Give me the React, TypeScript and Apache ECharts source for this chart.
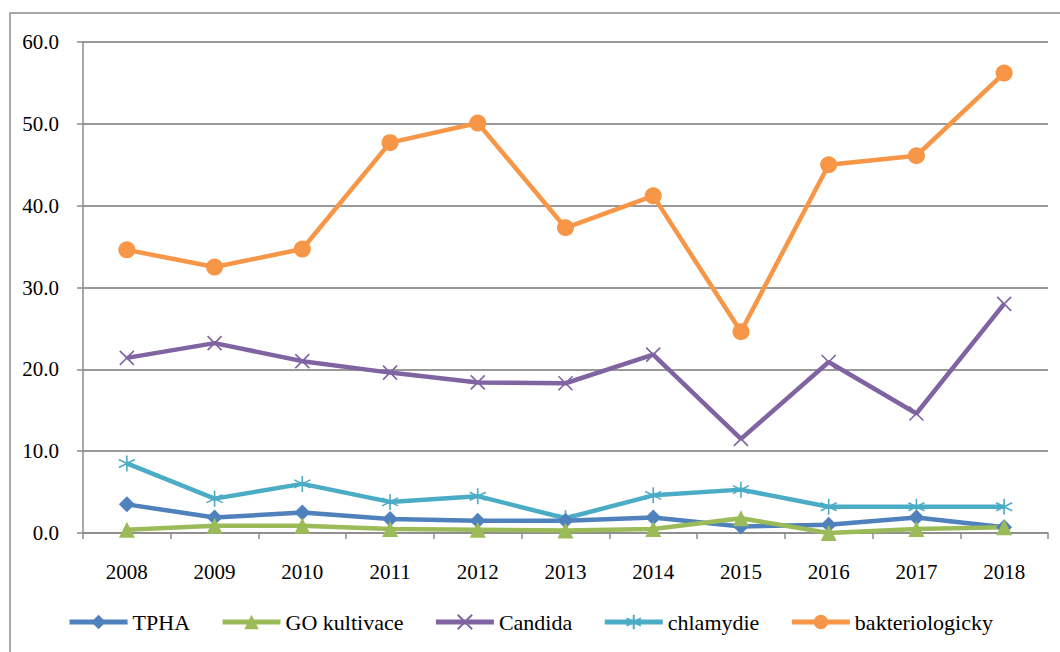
import React, { useEffect, useRef } from "react";
import * as echarts from "echarts";

const years = ["2008", "2009", "2010", "2011", "2012", "2013", "2014", "2015", "2016", "2017", "2018"];
const tpha = [3.5, 1.9, 2.5, 1.7, 1.5, 1.5, 1.9, 0.8, 1.0, 1.9, 0.7];
const goKultivace = [0.4, 0.9, 0.9, 0.5, 0.4, 0.3, 0.5, 1.8, 0.0, 0.5, 0.7];
const candida = [21.4, 23.2, 21.0, 19.6, 18.4, 18.3, 21.8, 11.5, 20.9, 14.6, 28.0];
const chlamydie = [8.5, 4.2, 6.0, 3.8, 4.5, 1.8, 4.6, 5.3, 3.2, 3.2, 3.2];
const bakteriologicky = [34.6, 32.5, 34.7, 47.7, 50.1, 37.3, 41.2, 24.6, 45.0, 46.1, 56.2];

const seriesNames = ["TPHA", "GO kultivace", "Candida", "chlamydie", "bakteriologicky"];
const colors = ["#4F81BD", "#9BBB59", "#8064A2", "#4BACC6", "#F79646"];

const xSymbol = "path://M0,0L10,10M10,0L0,10";
const starSymbol = "path://M5,0L5,10M0.7,2.5L9.3,7.5M9.3,2.5L0.7,7.5";

export default function App() {
  const ref = useRef<HTMLDivElement>(null);
  useEffect(() => {
    if (!ref.current) return;
    const chart = echarts.init(ref.current, null, { renderer: "svg" });
    const font = "Liberation Serif, DejaVu Serif, serif";
    const mk = (name: string, data: number[], color: string, symbol: string, size: number, stroke = false) => ({
      name,
      type: "line",
      data,
      symbol,
      symbolSize: size,
      showAllSymbol: true,
      lineStyle: { color, width: 4.5 },
      itemStyle: stroke
        ? { color: "rgba(0,0,0,0)", borderColor: color, borderWidth: 1.6 }
        : { color, borderColor: color, borderWidth: 0 },
      emphasis: { disabled: true },
    });
    chart.setOption({
      animation: false,
      color: colors,
      textStyle: { fontFamily: font },
      graphic: [
        {
          type: "rect",
          shape: { x: 10, y: 13, width: 1070, height: 660 },
          style: { fill: "none", stroke: "#8c8c8c", lineWidth: 1.5 },
          silent: true,
        },
      ],
      grid: { left: 83, right: 12, top: 42, bottom: 119 },
      legend: {
        bottom: 14,
        left: "center",
        itemWidth: 58,
        itemHeight: 18,
        itemGap: 30,
        lineStyle: { width: 5 },
        textStyle: { fontFamily: font, fontSize: 22, color: "#000" },
        data: seriesNames,
      },
      xAxis: {
        type: "category",
        data: years,
        boundaryGap: true,
        axisLine: { lineStyle: { color: "#8c8c8c", width: 1.5 } },
        axisTick: { show: true, length: 6, lineStyle: { color: "#8c8c8c", width: 1.5 } },
        axisLabel: { fontFamily: font, fontSize: 21, color: "#000", margin: 28 },
      },
      yAxis: {
        type: "value",
        min: 0,
        max: 60,
        interval: 10,
        axisLine: { show: true, lineStyle: { color: "#8c8c8c", width: 1.5 } },
        axisTick: { show: true, length: 6, lineStyle: { color: "#8c8c8c", width: 1.5 } },
        splitLine: { lineStyle: { color: "#999", width: 1.8 } },
        axisLabel: {
          fontFamily: font,
          fontSize: 21,
          color: "#000",
          margin: 24,
          formatter: (v: number) => v.toFixed(1),
        },
      },
      series: [
        mk(seriesNames[4], bakteriologicky, colors[4], "circle", 17),
        mk(seriesNames[2], candida, colors[2], xSymbol, 14, true),
        mk(seriesNames[3], chlamydie, colors[3], starSymbol, 16, true),
        mk(seriesNames[0], tpha, colors[0], "diamond", 16),
        mk(seriesNames[1], goKultivace, colors[1], "triangle", 16),
      ],
    });
    return () => chart.dispose();
  }, []);
  return (
    <div
      ref={ref}
      style={{ position: "fixed", left: 0, top: 0, width: 1060, height: 652, background: "#fff" }}
    />
  );
}
